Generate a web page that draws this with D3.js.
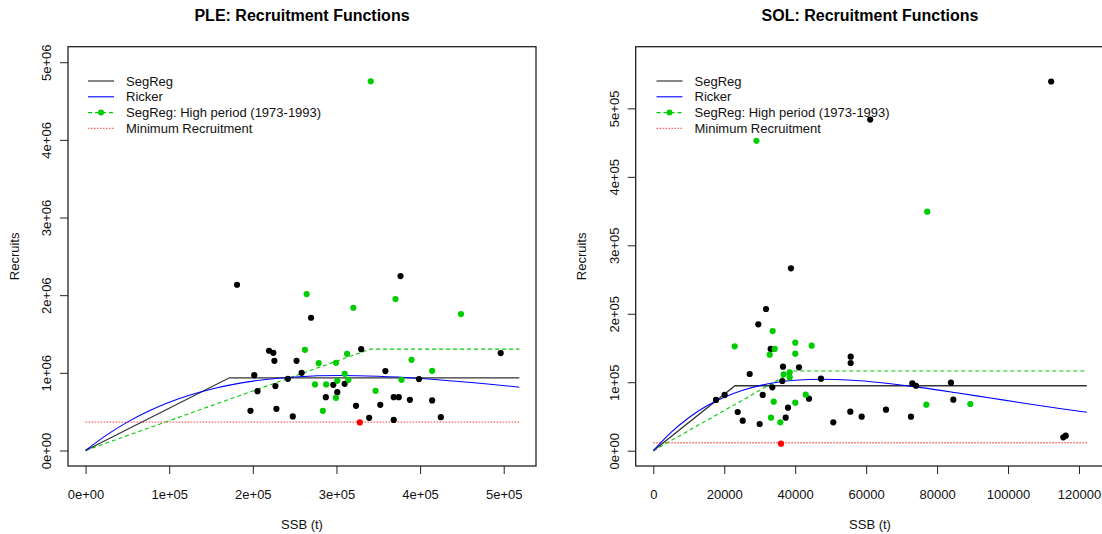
<!DOCTYPE html>
<html>
<head>
<meta charset="utf-8">
<script src="https://cdn.jsdelivr.net/npm/d3@7"></script>
<style>
  body { margin: 0; background: #fff; }
  svg { font-family: "Liberation Sans", Arial, sans-serif; }
</style>
</head>
<body>
<svg id="chart" width="1102" height="534"></svg>
<script>
// ---- PLE data (SSB t, recruits) ----
const pleOther = [[181100,2134000],[376600,2246000],[269600,1709000],[329600,1305000],[219400,1284000],
  [224500,1258000],[225800,1155000],[252300,1155000],[258400,1000000],[201700,970000],[358500,1022000],
  [241900,923000],[398700,919000],[496400,1254000],[205600,764000],[227000,829000],[296200,846000],
  [309800,858000],[301000,751000],[287300,687000],[368500,687000],[374500,687000],[387800,652000],
  [414400,644000],[197200,510000],[228200,536000],[323400,575000],[352400,588000],[247800,438000],
  [339100,420000],[368500,394000],[424800,429000]];
const pleHigh = [[264300,2014000],[370600,1950000],[320200,1838000],[448900,1756000],[262300,1296000],
  [312700,1245000],[278800,1125000],[299400,1129000],[389800,1168000],[414400,1026000],[309800,987000],
  [301000,897000],[314200,910000],[377800,910000],[274400,850000],[287700,850000],[299400,678000],
  [346800,768000],[283700,510000],[341000,4754000]];
const pleMin = [[327900,361000]];
const pleSegReg = [[0,0],[172000,936000],[518700,936000]];
const pleSegRegHigh = [[0,0],[340500,1305000],[518700,1305000]];
const pleRicker = [[0,0],[25000,198000],[50000,365000],[75000,504000],[100000,620000],[125000,714000],
  [150000,789000],[200000,893000],[250000,947000],[305000,965000],[350000,955000],[400000,927000],
  [450000,885000],[518700,815000]];
const pleMinRec = 365000;
const pleXTicks = [0,100000,200000,300000,400000,500000];
const pleYTicks = [0,1e6,2e6,3e6,4e6,5e6];

// ---- SOL data ----
const solOther = [[31770,207000],[29600,184600],[27170,112000],[17670,74100],[20120,81400],[23790,56500],
  [25200,43800],[29990,39000],[30840,81400],[33090,148600],[33550,92600],[36560,122700],[36360,101800],
  [41070,121800],[37970,62800],[37320,48200],[43890,76000],[47270,105200],[55640,137300],[55640,128100],
  [55530,57000],[58740,49700],[50740,41500],[65590,59900],[72640,49700],[73010,98400],[74050,94900],
  [83910,99300],[84570,74500],[115580,19600],[116260,21900],[38810,266400],[61140,483600],[112160,539300]];
const solHigh = [[33650,174800],[22950,152500],[34220,148600],[40030,157800],[44650,153400],[32810,140200],
  [40030,141700],[36760,111600],[38450,114500],[38450,107200],[33940,71600],[40030,70100],[42960,81800],
  [33180,48200],[35800,41500],[76960,67200],[89360,68200],[29080,452700],[77220,349100]];
const solMin = [[36000,10200]];
const solSegReg = [[0,0],[23030,94900],[122200,94900]];
const solSegRegHigh = [[0,0],[39660,116400],[122200,116400]];
const solRicker = [[0,0],[5000,26800],[10000,48200],[15000,65200],[20000,78200],[25000,88000],[30000,95100],
  [35000,99900],[40000,102800],[47660,104300],[55000,103200],[65000,98900],[75000,92500],[85000,85000],
  [95000,77000],[105000,69000],[115000,61300],[122200,56100]];
const solMinRec = 11700;
const solXTicks = [0,20000,40000,60000,80000,100000,120000];
const solYTicks = [0,1e5,2e5,3e5,4e5,5e5];

const legendLabels = ["SegReg","Ricker","SegReg: High period (1973-1993)","Minimum Recruitment"];
const GREEN = "#00cd00";

const svg = d3.select("#chart");

function sci(d) {
  if (d === 0) return "0e+00";
  const e = Math.floor(Math.log10(d));
  const m = Math.round(d / Math.pow(10, e));
  return m + "e+" + String(e).padStart(2, "0");
}

function drawPanel(p) {
  const g = svg.append("g");
  const x = d3.scaleLinear().domain(p.xDom).range([p.left, p.right]);
  const y = d3.scaleLinear().domain(p.yDom).range([p.bottom, p.top]);

  // title
  g.append("text").attr("x", p.titleX).attr("y", 21).attr("text-anchor", "middle")
    .attr("font-size", 16).attr("font-weight", "bold").text(p.title);

  // x axis
  const xa = g.append("g").attr("transform", `translate(0,${p.bottom})`)
    .call(d3.axisBottom(x).tickValues(p.xTicks).tickFormat(p.xFmt).tickSize(8).tickSizeOuter(0));
  xa.select(".domain").remove();
  xa.selectAll("line").attr("stroke", "#222");
  xa.selectAll("text").attr("y", 32.5).attr("dy", 0).attr("font-size", 13).attr("fill", "#111")
    .attr("font-family", "Liberation Sans, Arial, sans-serif");

  // y axis
  const ya = g.append("g").attr("transform", `translate(${p.left},0)`)
    .call(d3.axisLeft(y).tickValues(p.yTicks).tickFormat(sci).tickSize(8).tickSizeOuter(0));
  ya.select(".domain").remove();
  ya.selectAll("line").attr("stroke", "#222");
  ya.selectAll("text").attr("x", 0).attr("y", 0).attr("dy", "0.35em").attr("font-size", 13).attr("fill", "#111")
    .attr("font-family", "Liberation Sans, Arial, sans-serif")
    .attr("text-anchor", "middle").attr("transform", `translate(${p.yLabX - p.left},0) rotate(-90)`);

  // axis titles
  g.append("text").attr("x", p.titleX).attr("y", 529).attr("text-anchor", "middle")
    .attr("font-size", 13).attr("fill", "#111").text("SSB (t)");
  g.append("text").attr("transform", `translate(${p.recX},${(p.top + p.bottom) / 2}) rotate(-90)`)
    .attr("dy", "0.35em").attr("text-anchor", "middle").attr("font-size", 13).attr("fill", "#111").text("Recruits");

  const line = d3.line().x(d => x(d[0])).y(d => y(d[1]));
  const plot = g.append("g");

  // minimum recruitment
  plot.append("path").datum([[0, p.minRec], [p.lineEnd, p.minRec]]).attr("d", line)
    .attr("fill", "none").attr("stroke", "#ff3030").attr("stroke-opacity", 0.75)
    .attr("stroke-width", 1.4).attr("stroke-dasharray", "1.5,1.5");
  // segreg high period
  plot.append("path").datum(p.segHigh).attr("d", line).attr("fill", "none")
    .attr("stroke", GREEN).attr("stroke-width", 1.1).attr("stroke-dasharray", "4,3");
  // segreg
  plot.append("path").datum(p.seg).attr("d", line).attr("fill", "none")
    .attr("stroke", "#333").attr("stroke-width", 1.3);
  // ricker
  plot.append("path").datum(p.ricker).attr("d", line.curve(d3.curveMonotoneX)).attr("fill", "none")
    .attr("stroke", "#0000ff").attr("stroke-width", 1.1);

  plot.selectAll(".other").data(p.other).join("circle")
    .attr("cx", d => x(d[0])).attr("cy", d => y(d[1])).attr("r", 3.1).attr("fill", "#000");
  plot.selectAll(".high").data(p.high).join("circle")
    .attr("cx", d => x(d[0])).attr("cy", d => y(d[1])).attr("r", 3.1).attr("fill", GREEN);
  plot.selectAll(".minp").data(p.min).join("circle")
    .attr("cx", d => x(d[0])).attr("cy", d => y(d[1])).attr("r", 3.1).attr("fill", "#ff0000");

  // box
  g.append("rect").attr("x", p.left).attr("y", p.top).attr("width", p.right - p.left)
    .attr("height", p.bottom - p.top).attr("fill", "none").attr("stroke", "#222").attr("stroke-width", 1.3);

  // legend
  const lg = g.append("g");
  legendLabels.forEach((lab, i) => {
    const ly = 81 + 15.8 * i;
    const l = lg.append("line").attr("x1", p.legX).attr("x2", p.legX + 26).attr("y1", ly).attr("y2", ly);
    if (i === 0) l.attr("stroke", "#333").attr("stroke-width", 1.2);
    if (i === 1) l.attr("stroke", "#0000ff").attr("stroke-width", 1.1);
    if (i === 2) {
      l.attr("stroke", GREEN).attr("stroke-width", 1.1).attr("stroke-dasharray", "4,3");
      lg.append("circle").attr("cx", p.legX + 13).attr("cy", ly).attr("r", 3).attr("fill", GREEN);
    }
    if (i === 3) l.attr("stroke", "#ff3030").attr("stroke-opacity", 0.75).attr("stroke-width", 1.2)
      .attr("stroke-dasharray", "1.5,1.5");
    lg.append("text").attr("x", p.legX + 38).attr("y", ly + 4.6).attr("font-size", 13).attr("fill", "#111").text(lab);
  });
}

drawPanel({
  title: "PLE: Recruitment Functions", titleX: 302,
  left: 68, right: 536, top: 46.7, bottom: 466,
  xDom: [-21000, 538600], yDom: [-200000, 5200000],
  xTicks: pleXTicks, yTicks: pleYTicks, xFmt: sci,
  yLabX: 46.7, recX: 14.7, legX: 88,
  other: pleOther, high: pleHigh, min: pleMin,
  seg: pleSegReg, segHigh: pleSegRegHigh, ricker: pleRicker,
  minRec: pleMinRec, lineEnd: 518700
});

drawPanel({
  title: "SOL: Recruitment Functions", titleX: 870,
  left: 635.7, right: 1104, top: 46.7, bottom: 466,
  xDom: [-4961, 127050], yDom: [-22350, 590100],
  xTicks: solXTicks, yTicks: solYTicks, xFmt: d3.format("d"),
  yLabX: 614, recX: 581.7, legX: 656.5,
  other: solOther, high: solHigh, min: solMin,
  seg: solSegReg, segHigh: solSegRegHigh, ricker: solRicker,
  minRec: solMinRec, lineEnd: 122200
});
</script>
</body>
</html>
